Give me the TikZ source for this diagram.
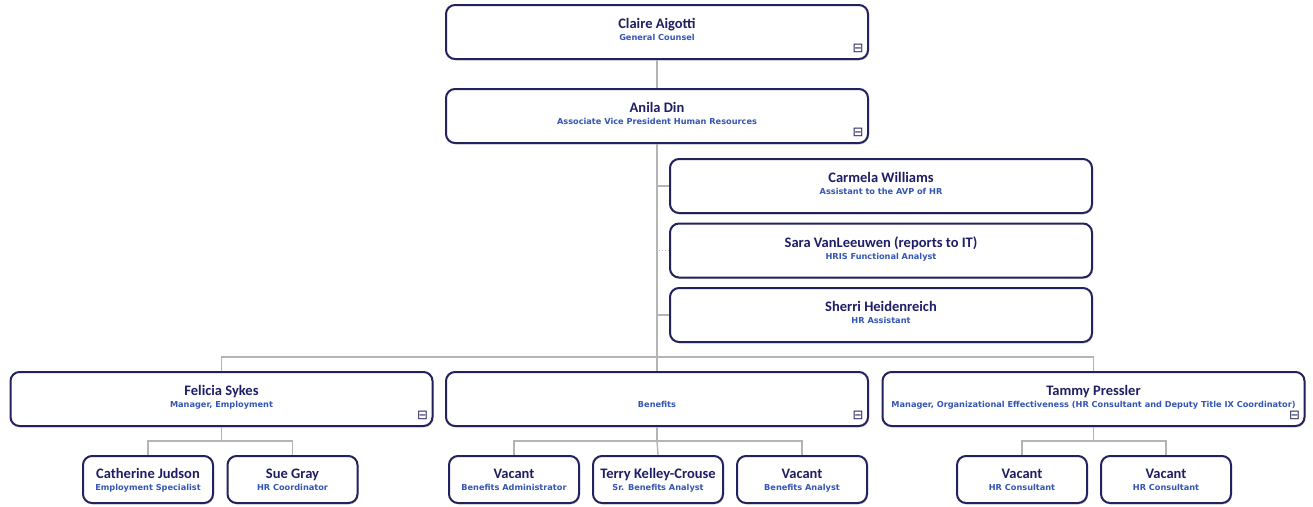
\documentclass[tikz,border=0pt]{standalone}
\usepackage{fontspec}
\setmainfont{Carlito}
\newfontfamily\titlefam{DejaVu Sans}
\usetikzlibrary{shadows}

\definecolor{boxline}{HTML}{22225E}
\definecolor{namecol}{HTML}{1E1E64}
\definecolor{titlecol}{HTML}{3456B4}
\definecolor{linkcol}{HTML}{B4B4B4}

\newcommand{\namefont}{\bfseries\fontsize{14.5}{16}\selectfont\color{namecol}}
\newcommand{\titlefont}{\titlefam\bfseries\fontsize{8.2}{9}\selectfont\color{titlecol}}
\newcommand{\orgentry}[2]{{\namefont\strut #1}\\[0pt]{\titlefont #2}}

\begin{document}
\begin{tikzpicture}[x=1pt,y=-1pt]
    \tikzstyle{box}=[draw=boxline,line width=2pt,fill=white,rounded corners=9pt,
      align=center,inner sep=1pt,
      drop shadow={opacity=0.25,shadow xshift=1pt,shadow yshift=-1.5pt}]
    \tikzstyle{big box}=[box,minimum width=422pt,minimum height=54pt,text depth=6pt]
    \tikzstyle{small box}=[box,minimum width=130pt,minimum height=47pt,text depth=1.5pt]
    \tikzstyle{link}=[draw=linkcol,line width=1.4pt]
    \tikzstyle{icon}=[inner sep=0pt,font=\titlefam\fontsize{13}{13}\selectfont,text=boxline]

    \useasboundingbox (0,0) rectangle (1313,506);

    % top of the chart
    \node[big box] (T-1) at (657,32) {\orgentry{Claire Aigotti}{General Counsel}};
    \node[big box] (T-2) at (657,116) {\orgentry{Anila Din}{Associate Vice President Human Resources}};

    % staff of the AVP
    \node[big box] (S-1) at (881,186) {\orgentry{Carmela Williams}{Assistant to the AVP of HR}};
    \node[big box] (S-2) at (881,250.5) {\orgentry{Sara VanLeeuwen (reports to IT)}{HRIS Functional Analyst}};
    \node[big box] (S-3) at (881,315) {\orgentry{Sherri Heidenreich}{HR Assistant}};

    % managers
    \node[big box] (M-1) at (221.5,399) {\orgentry{Felicia Sykes}{Manager, Employment}};
    \node[big box] (M-2) at (657,399) {\orgentry{}{Benefits}};
    \node[big box] (M-3) at (1093.5,399) {\orgentry{Tammy Pressler}{Manager, Organizational Effectiveness (HR Consultant and Deputy Title IX Coordinator)}};

    % employees
    \node[small box] (E-1) at (148,479.5) {\orgentry{Catherine Judson}{Employment Specialist}};
    \node[small box] (E-2) at (292.5,479.5) {\orgentry{Sue Gray}{HR Coordinator}};
    \node[small box] (E-3) at (514,479.5) {\orgentry{Vacant}{Benefits Administrator}};
    \node[small box] (E-4) at (658,479.5) {\orgentry{Terry Kelley-Crouse}{Sr. Benefits Analyst}};
    \node[small box] (E-5) at (802,479.5) {\orgentry{Vacant}{Benefits Analyst}};
    \node[small box] (E-6) at (1022,479.5) {\orgentry{Vacant}{HR Consultant}};
    \node[small box] (E-7) at (1166,479.5) {\orgentry{Vacant}{HR Consultant}};

    % collapse marks
    \foreach \n in {T-1,T-2,M-1,M-2,M-3}
      \node[icon] (icon-\n) at ([xshift=-11pt,yshift=12pt]\n.south east) {⊟};

    \coordinate (bus) at (657,357);
    \coordinate (sub-1) at (221.5,441);
    \coordinate (sub-2) at (657,441);
    \coordinate (sub-3) at (1093.5,441);

    % connectors
    \path[link] (T-1.south) -- (T-2.north);
    \path[link] (T-2.south) -- (M-2.north);
    \path[link] (M-1.north) |- (bus) -| (M-3.north);
    \path[link] (S-1.west) -- (S-1.west -| T-2.south);
    \path[link] (S-3.west) -- (S-3.west -| T-2.south);
    \path[link,line width=1pt,dotted] (S-2.west) -- (S-2.west -| T-2.south);

    \foreach \m in {1,2,3}
      \path[link] (M-\m.south) -- (sub-\m);
    \path[link] (E-1.north) |- (sub-1) -| (E-2.north);
    \path[link] (E-3.north) |- (sub-2) -| (E-5.north);
    \path[link] (sub-2) -- (E-4.north);
    \path[link] (E-6.north) |- (sub-3) -| (E-7.north);

\end{tikzpicture}
\end{document}
